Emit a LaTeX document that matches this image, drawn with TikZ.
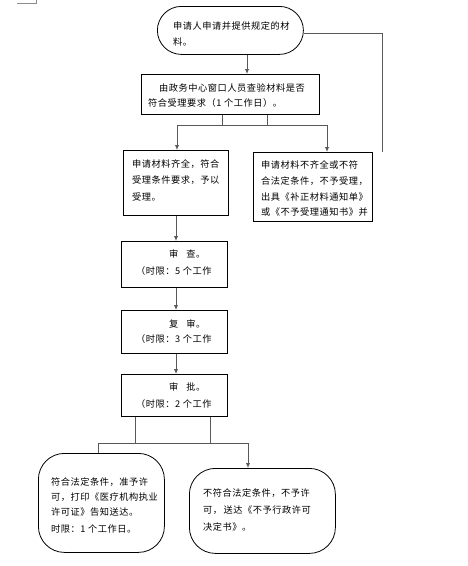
\documentclass[tikz,border=0pt]{standalone}
\usepackage{fontspec}
\newfontfamily\cjk[LetterSpace=6]{Noto Sans CJK SC}
\usetikzlibrary{arrows.meta}
\begin{document}
\begin{tikzpicture}[x=1pt,y=-1pt,
  box/.style={draw=black, line width=0.8pt, inner sep=0pt, anchor=north west},
  txt/.style={anchor=west, inner sep=0pt, font=\cjk\fontsize{9.2}{10}\selectfont},
  conn/.style={draw=black!65, line width=1pt},
  arr/.style={conn, -{Latex[length=5pt,width=4.5pt]}},
  crop/.style={draw=black!45, line width=0.6pt}]
\useasboundingbox (0,0) rectangle (467,566);
\fill[white] (0,0) rectangle (467,566);
% crop mark
\coordinate (cm1) at (17,3); \coordinate (cm2) at (36,3); \coordinate (cm3) at (36,0);
\draw[crop] (cm1) -- (cm2) -- (cm3);
% boxes
\node[box, minimum width=146pt, minimum height=48pt, rounded corners=24pt] (n1) at (157,6) {};
\node[box, minimum width=178pt, minimum height=40pt] (n2) at (141,74) {};
\node[box, minimum width=105pt, minimum height=65pt] (n3l) at (123,150) {};
\node[box, minimum width=119pt, minimum height=69pt] (n3r) at (253,152) {};
\node[box, minimum width=106pt, minimum height=46pt] (r1) at (121,241) {};
\node[box, minimum width=106pt, minimum height=43pt] (r2) at (121,310) {};
\node[box, minimum width=106pt, minimum height=42pt] (r3) at (121,374) {};
\node[box, minimum width=126pt, minimum height=99pt, rounded corners=26pt] (bl) at (38,453) {};
\node[box, minimum width=146pt, minimum height=85pt, rounded corners=26pt] (br) at (189,468) {};
% texts
\node[txt] (t1a) at (173,26) {申请人申请并提供规定的材};
\node[txt] (t1b) at (173,42) {料。};
\node[txt] (t2a) at (159,88) {由政务中心窗口人员查验材料是否};
\node[txt] (t2b) at (148,103) {符合受理要求（1 个工作日）。};
\node[txt] (t3a) at (132,164) {申请材料齐全，符合};
\node[txt] (t3b) at (132,180) {受理条件要求，予以};
\node[txt] (t3c) at (132,197) {受理。};
\node[txt] (t4a) at (261,165) {申请材料不齐全或不符};
\node[txt] (t4b) at (261,181) {合法定条件，不予受理，};
\node[txt] (t4c) at (261,197) {出具《补正材料通知单》};
\node[txt] (t4d) at (261,212) {或《不予受理通知书》并};
\node[txt] (t5a) at (169,254) {审\hspace{8pt}查。};
\node[txt] (t5b) at (136,271) {（时限：5 个工作};
\node[txt] (t6a) at (169,324) {复\hspace{8pt}审。};
\node[txt] (t6b) at (136,339) {（时限：3 个工作};
\node[txt] (t7a) at (169,387) {审\hspace{8pt}批。};
\node[txt] (t7b) at (136,404) {（时限：2 个工作};
\node[txt] (t8a) at (51,482) {符合法定条件，准予许};
\node[txt] (t8b) at (51,497) {可，打印《医疗机构执业};
\node[txt] (t8c) at (51,512) {许可证》告知送达。};
\node[txt] (t8d) at (51,529) {时限：1 个工作日。};
\node[txt] (t9a) at (203,493) {不符合法定条件，不予许};
\node[txt] (t9b) at (203,510) {可，\,送达《不予行政许可};
\node[txt] (t9c) at (203,527) {决定书》。};
% connectors
\draw[arr] (n1.south -| 247,0) -- (n2.north -| 247,0);
\coordinate (c1) at (382,33);
\coordinate (c2) at (382,152);
\draw[conn] (n1.east |- c1) -- (c1) -- (c2);
\coordinate (j1) at (222,125);
\coordinate (j2) at (267,125);
\coordinate (jl) at (177,125);
\coordinate (jr) at (327,125);
\draw[conn] (n2.south -| j1) -- (j1);
\draw[conn] (n2.south -| j2) -- (j2);
\draw[conn] (jl) -- (jr);
\draw[arr] (jl) -- (n3l.north -| jl);
\draw[arr] (jr) -- (n3r.north -| jr);
\coordinate (v) at (176,0);
\draw[arr] (n3l.south -| v) -- (r1.north -| v);
\draw[arr] (r1.south -| v) -- (r2.north -| v);
\draw[arr] (r2.south -| v) -- (r3.north -| v);
\coordinate (k1) at (135,443);
\coordinate (k2) at (210,443);
\coordinate (kl) at (98,443);
\coordinate (kr) at (248,443);
\draw[conn] (r3.south -| k1) -- (k1);
\draw[conn] (r3.south -| k2) -- (k2);
\draw[conn] (bl.north -| kl) -- (kl) -- (kr);
\draw[arr] (kr) -- (br.north -| kr);
\end{tikzpicture}
\end{document}
